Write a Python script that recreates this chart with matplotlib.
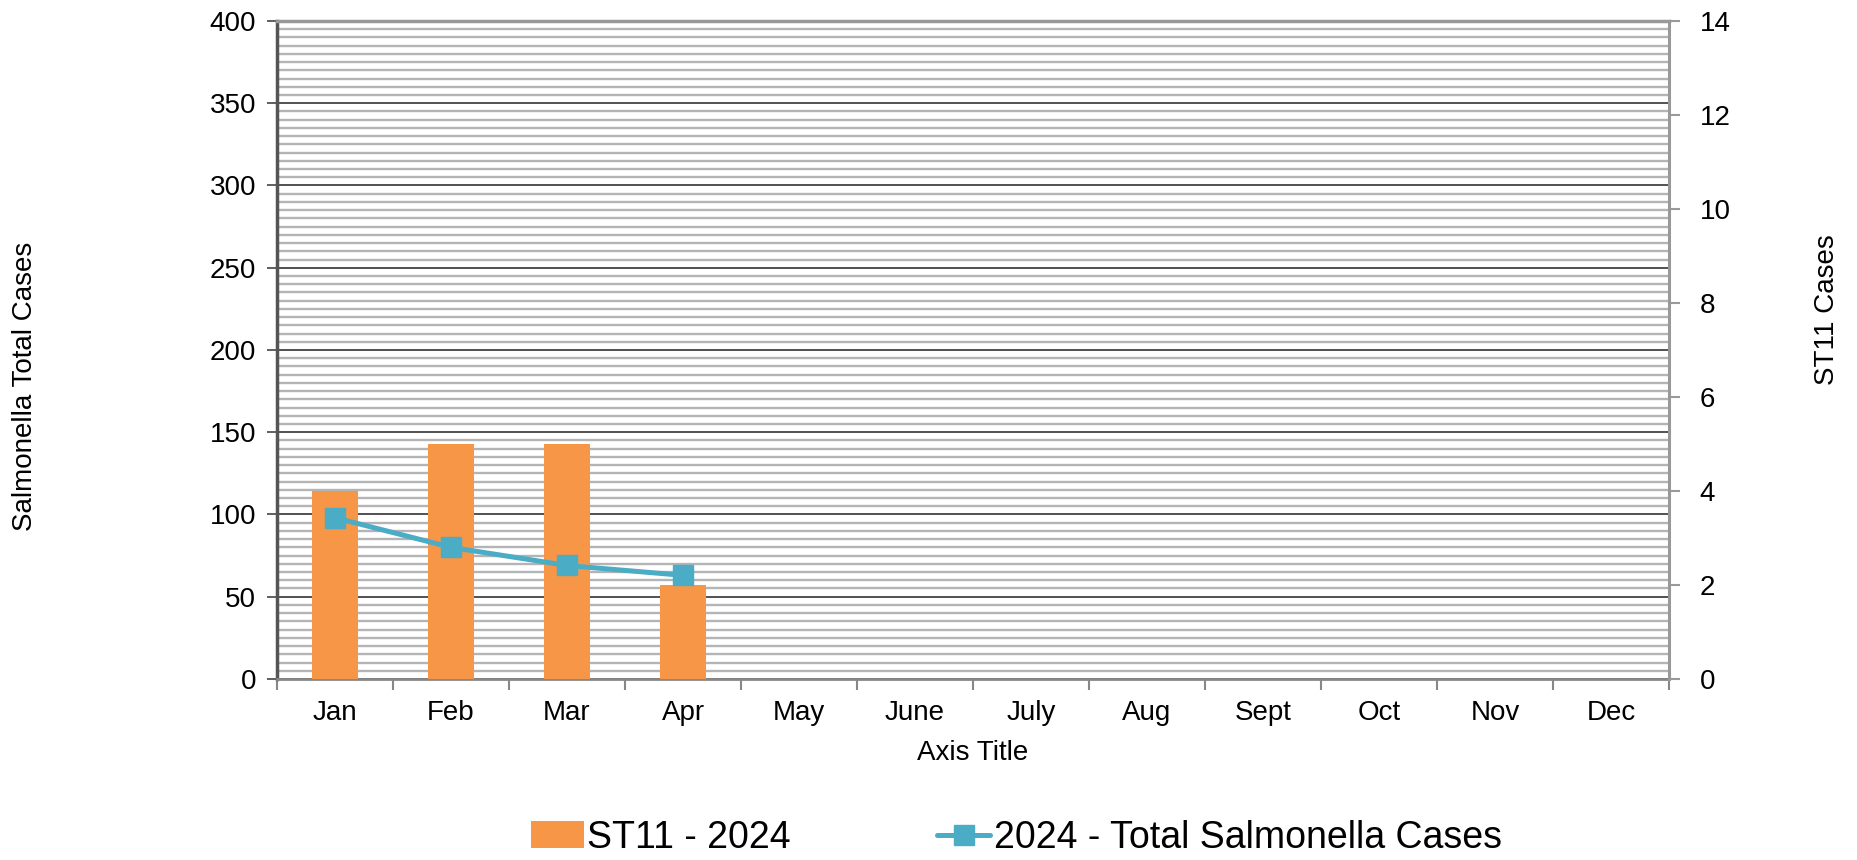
import matplotlib
matplotlib.use("Agg")
import matplotlib.pyplot as plt
import numpy as np

months = ["Jan", "Feb", "Mar", "Apr", "May", "June", "July", "Aug", "Sept", "Oct", "Nov", "Dec"]
st11_2024 = [4, 5, 5, 2]              # right axis, bars
total_2024 = [98, 80, 69, 63]         # left axis, line

orange = "#F79646"
teal = "#4BACC6"

plt.rcParams["font.family"] = ["Liberation Sans", "DejaVu Sans"]
plt.rcParams["font.size"] = 20

fig = plt.figure(figsize=(18.58, 8.6), dpi=100)
ax = fig.add_axes([0.1491, 0.2105, 0.7492, 0.7651])
x = np.arange(len(months))

# left axis: grid + ticks
ax.set_xlim(-0.5, len(months) - 0.5)
ax.set_ylim(0, 400)
ax.set_yticks(np.arange(0, 401, 50))
ax.set_yticks(np.arange(0, 401, 5), minor=True)
ax.grid(axis="y", which="minor", color="#b4b4b4", linewidth=1.7)
ax.grid(axis="y", which="major", color="#222222", linewidth=1.1)
ax.set_axisbelow(True)
ax.tick_params(axis="y", which="major", length=7, width=1.2, color="#444444", pad=8)
ax.tick_params(axis="y", which="minor", length=0)
ax.set_xticks(np.arange(-0.5, len(months), 1.0))
ax.set_xticklabels([])
ax.set_xticks(x, minor=True)
ax.set_xticklabels(months, minor=True)
ax.tick_params(axis="x", which="major", length=8, width=1.5, color="#888888")
ax.tick_params(axis="x", which="minor", length=0, pad=15)
ax.set_xlabel("Axis Title", labelpad=10)
ax.set_ylabel("Salmonella Total Cases")
ax.yaxis.set_label_coords(-0.172, 0.445)
ax.spines["left"].set_color("#555555")
ax.spines["left"].set_linewidth(2.5)
ax.spines["bottom"].set_color("#888888")
ax.spines["bottom"].set_linewidth(2)
ax.spines["top"].set_color("#999999")
ax.spines["top"].set_linewidth(2.5)
ax.spines["right"].set_visible(False)

# right axis: bars
ax2 = ax.twinx()
ax2.set_ylim(0, 14)
ax2.set_yticks(np.arange(0, 15, 2))
bars = ax2.bar(x[:len(st11_2024)], st11_2024, width=0.4, color=orange, label="ST11 - 2024", zorder=2)
ax2.tick_params(axis="y", length=8, width=1.5, color="#999999", pad=14)
ax2.set_ylabel("ST11 Cases")
ax2.yaxis.set_label_coords(1.104, 0.561)
ax2.spines["right"].set_color("#999999")
ax2.spines["right"].set_linewidth(2.2)
for s in ["left", "top", "bottom"]:
    ax2.spines[s].set_visible(False)

# line on top, left-axis scale
ax3 = ax.twinx()
ax3.set_ylim(0, 400)
ax3.axis("off")
line, = ax3.plot(x[:len(total_2024)], total_2024, color=teal, linewidth=3.6,
                 marker="s", markersize=14, label="2024 - Total Salmonella Cases",
                 solid_capstyle="round", clip_on=False)

fig.legend(handles=[bars, line], loc="center", bbox_to_anchor=(0.547, 0.026), ncol=2,
           frameon=False, fontsize=27, handlelength=1.4, handleheight=0.7,
           handletextpad=0.1, columnspacing=3.9, borderaxespad=0)

fig.savefig("out.png", dpi=100)
